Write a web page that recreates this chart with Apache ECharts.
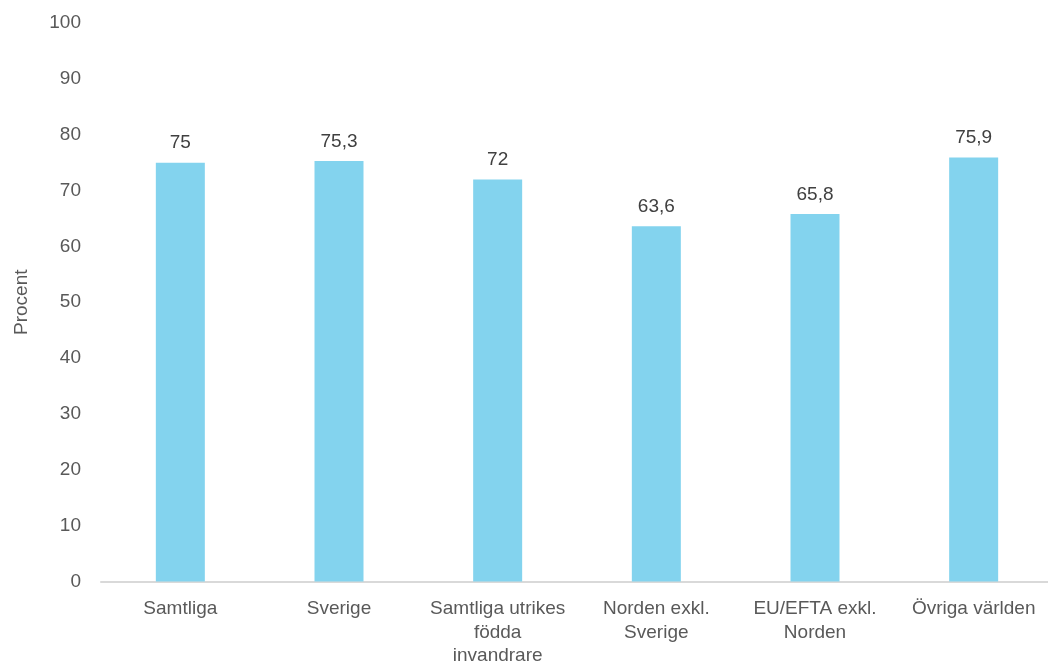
<!DOCTYPE html>
<html>
<head>
<meta charset="utf-8">
<script src="https://cdn.jsdelivr.net/npm/echarts@6/dist/echarts.min.js"></script>
<style>
  html, body { margin: 0; padding: 0; background: #fff; overflow: hidden; }
  #chart { width: 1060px; height: 668px; }
</style>
</head>
<body>
<div id="chart"></div>
<script>
// Share per group, percent
const categories = [
  'Samtliga',
  'Sverige',
  'Samtliga utrikes\nfödda\ninvandrare',
  'Norden exkl.\nSverige',
  'EU/EFTA exkl.\nNorden',
  'Övriga världen'
];
const values = [75, 75.3, 72, 63.6, 65.8, 75.9];
const yTicks = { min: 0, max: 100, interval: 10 };

const font = '"Liberation Sans", Arial, sans-serif';
const chart = echarts.init(document.getElementById('chart'));

chart.setOption({
  animation: false,
  textStyle: { fontFamily: font },
  grid: { left: 101, top: 23, width: 952, height: 559, containLabel: false },
  xAxis: {
    type: 'category',
    data: categories,
    axisLine: { lineStyle: { color: '#D9D9D9', width: 2 } },
    axisTick: { show: false },
    axisLabel: {
      interval: 0,
      margin: 16,
      color: '#595959',
      fontSize: 19,
      lineHeight: 23.5,
      fontFamily: font
    }
  },
  yAxis: {
    type: 'value',
    min: yTicks.min,
    max: yTicks.max,
    interval: yTicks.interval,
    name: 'Procent',
    nameLocation: 'middle',
    nameGap: 70,
    nameRotate: 90,
    nameTextStyle: { color: '#595959', fontSize: 19, fontFamily: font },
    axisLine: { show: false },
    axisTick: { show: false },
    splitLine: { show: false },
    axisLabel: { color: '#595959', fontSize: 19, margin: 20, fontFamily: font }
  },
  series: [{
    type: 'bar',
    data: values,
    barWidth: 49,
    itemStyle: { color: '#83D3EE' },
    label: {
      show: true,
      position: 'top',
      distance: 10,
      color: '#404040',
      fontSize: 19,
      fontFamily: font,
      formatter: p => String(p.value).replace('.', ',')
    }
  }]
});
</script>
</body>
</html>
